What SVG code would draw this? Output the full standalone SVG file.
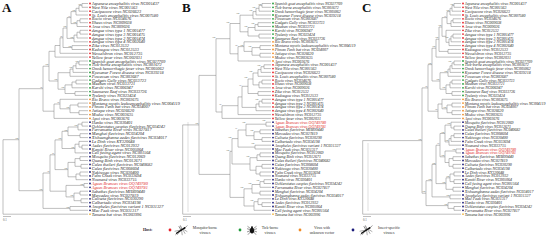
<svg xmlns="http://www.w3.org/2000/svg" width="550" height="240" viewBox="0 0 550 240">
<style>
.tree{fill:none;stroke:#7f7f7f;stroke-width:0.5}
.bar{fill:none;stroke:#bdbdbd;stroke-width:0.5}
text{font-family:"Liberation Serif","Times New Roman",serif}
.t{font-size:4.3px;font-style:italic;fill:#2a2a2a;dominant-baseline:central}
.tc{font-size:3.95px}
.red{fill:#e02424}
.bs{font-size:2.3px;fill:#666;text-anchor:end}
.lt{font-size:13px;font-weight:bold;fill:#111}
.sc{font-size:3px;fill:#555}
.lg{font-size:3.8px;fill:#333;text-anchor:middle}
.host{font-size:4px;font-weight:bold;fill:#222}
.r{fill:#e8202a}.g{fill:#1f9a3a}.o{fill:#f08a24}.b{fill:#1b1b7a}.y{fill:#f0b84a}
circle.d{r:0.9px}
</style>

<!-- ================= PANEL A ================= -->
<g id="panelA">
<text class="lt" x="2" y="12">A</text>
<g id="connectorsA">
<path class="tree" d="M82 3.5V7.3M82 3.5H88M82 7.3H88M79 5.4V11.2M79 5.4H82M79 11.2H88M76 8.3V15M76 8.3H79M76 15H88M80 18.8V22.7M80 18.8H88M80 22.7H88M77 20.7V26.5M77 20.7H80M77 26.5H88M71 11.6V23.6M71 11.6H76M71 23.6H77M80 30.3V34.1M80 30.3H88M80 34.1H88M77 32.2V38M77 32.2H80M77 38H88M74 35.1V41.8M74 35.1H77M74 41.8H88M67 17.6V38.4M67 17.6H71M67 38.4H74M72 45.6V49.5M72 45.6H88M72 49.5H88M63 28V47.5M63 28H67M63 47.5H72M60 37.8V53.3M60 37.8H63M60 53.3H88M55 45.5V57.1M55 45.5H60M55 57.1H88
M79 61V64.8M79 61H88M79 64.8H88M76 62.9V68.6M76 62.9H79M76 68.6H88M73 65.8V72.4M73 65.8H76M73 72.4H88M70 69.1V76.3M70 69.1H73M70 76.3H88M76 80.1V83.9M76 80.1H88M76 83.9H88M72 82V87.8M72 82H76M72 87.8H88M75 91.6V95.4M75 91.6H88M75 95.4H88M65 84.9V93.5M65 84.9H72M65 93.5H75M58 72.7V89.2M58 72.7H70M58 89.2H65M49 51.3V81M49 51.3H55M49 81H58
M78 103.1V106.9M78 103.1H88M78 106.9H88M79 110.7V114.6M79 110.7H88M79 114.6H88M70 105V112.7M70 105H78M70 112.7H79M60 99.3V108.8M60 99.3H88M60 108.8H70M54 104V118.4M54 104H60M54 118.4H88M43 66.2V111.2M43 66.2H49M43 111.2H54
M82 122.2V126.1M82 122.2H88M82 126.1H88M78 124.1V129.9M78 124.1H82M78 129.9H88M80 133.7V137.6M80 133.7H88M80 137.6H88M68 127V135.6M68 127H78M68 135.6H80M82 145.2V149M82 145.2H88M82 149H88M79 141.4V147.1M79 141.4H88M79 147.1H82M75 144.2V152.9M75 144.2H79M75 152.9H88M62 131.3V148.5M62 131.3H68M62 148.5H75M80 156.7V160.5M80 156.7H88M80 160.5H88M81 164.4V168.2M81 164.4H88M81 168.2H88M75 158.6V166.3M75 158.6H80M75 166.3H81M80 172V175.9M80 172H88M80 175.9H88M76 174V179.7M76 174H80M76 179.7H88M68 162.4V176.8M68 162.4H75M68 176.8H76M55 139.9V169.6M55 139.9H62M55 169.6H68M84 183.5V187.3M84 183.5H88M84 187.3H88M80 191.2V195M80 191.2H88M80 195H88M81 198.8V202.7M81 198.8H88M81 202.7H88M74 193.1V200.7M74 193.1H80M74 200.7H81M66 185.4V196.9M66 185.4H84M66 196.9H74M50 154.8V191.2M50 154.8H55M50 191.2H66M70 206.5V210.3M70 206.5H88M70 210.3H88M43 173V208.4M43 173H50M43 208.4H70
M19 88.7V190.7M19 88.7H43M19 190.7H43M3 139.7V214.2M3 139.7H19M3 214.2H88"/>
<path class="bar" d="M188 122V212"/>
<path class="tree" d="M3 216.5H11"/>
<text class="sc" x="3" y="220.5">0.1</text>
</g>
<g id="bootA">
<text class="bs" x="81.5" y="4.6">100</text><text class="bs" x="75.5" y="10.8">100</text><text class="bs" x="76.5" y="22.8">100</text><text class="bs" x="70.5" y="16.8">99</text><text class="bs" x="73.5" y="37.6">100</text><text class="bs" x="66.5" y="27.2">100</text><text class="bs" x="62.5" y="37">96</text><text class="bs" x="71.5" y="46.7">100</text>
<text class="bs" x="78.5" y="62.1">100</text><text class="bs" x="72.5" y="68.3">100</text><text class="bs" x="64.5" y="88.4">100</text><text class="bs" x="57.5" y="80.2">100</text><text class="bs" x="48.5" y="65.4">100</text><text class="bs" x="42.5" y="87.9">96</text>
<text class="bs" x="69.5" y="108">100</text><text class="bs" x="59.5" y="103.2">98</text>
<text class="bs" x="77.5" y="126.2">100</text><text class="bs" x="67.5" y="130.5">100</text><text class="bs" x="74.5" y="147.7">100</text><text class="bs" x="61.5" y="139.1">100</text><text class="bs" x="67.5" y="168.8">100</text><text class="bs" x="54.5" y="154">87</text><text class="bs" x="83.5" y="184.6">100</text><text class="bs" x="73.5" y="196.1">100</text><text class="bs" x="49.5" y="172.2">74</text><text class="bs" x="69.5" y="207.6">100</text><text class="bs" x="42.5" y="189.9">100</text><text class="bs" x="18.5" y="138.9">100</text>
</g>
<g id="A0"><circle class="d r" cx="90" cy="3.5"/><text class="t" x="91.8" y="3.5">Japanese encephalitis virus NC001437</text></g>
<g id="A1"><circle class="d r" cx="90" cy="7.3"/><text class="t" x="91.8" y="7.3">West Nile virus NC001563</text></g>
<g id="A2"><circle class="d r" cx="90" cy="11.2"/><text class="t" x="91.8" y="11.2">Cacipacore virus NC026623</text></g>
<g id="A3"><circle class="d r" cx="90" cy="15"/><text class="t" x="91.8" y="15">St. Louis encephalitis virus NC007580</text></g>
<g id="A4"><circle class="d r" cx="90" cy="18.8"/><text class="t" x="91.8" y="18.8">Rocio virus NC034676</text></g>
<g id="A5"><circle class="d r" cx="90" cy="22.7"/><text class="t" x="91.8" y="22.7">Ilheus virus NC009028</text></g>
<g id="A6"><circle class="d r" cx="90" cy="26.5"/><text class="t" x="91.8" y="26.5">Aroa virus NC009026</text></g>
<g id="A7"><circle class="d r" cx="90" cy="30.3"/><text class="t" x="91.8" y="30.3">dengue virus type 1 NC001477</text></g>
<g id="A8"><circle class="d r" cx="90" cy="34.1"/><text class="t" x="91.8" y="34.1">dengue virus type 3 NC001475</text></g>
<g id="A9"><circle class="d r" cx="90" cy="38"/><text class="t" x="91.8" y="38">dengue virus type 2 NC001474</text></g>
<g id="A10"><circle class="d r" cx="90" cy="41.8"/><text class="t" x="91.8" y="41.8">dengue virus type 4 NC002640</text></g>
<g id="A11"><circle class="d r" cx="90" cy="45.6"/><text class="t" x="91.8" y="45.6">Zika virus NC012532</text></g>
<g id="A12"><circle class="d r" cx="90" cy="49.5"/><text class="t" x="91.8" y="49.5">Kedougou virus NC012533</text></g>
<g id="A13"><circle class="d r" cx="90" cy="53.3"/><text class="t" x="91.8" y="53.3">Wesselsbron virus NC012735</text></g>
<g id="A14"><circle class="d r" cx="90" cy="57.1"/><text class="t" x="91.8" y="57.1">Yellow fever virus NC002031</text></g>
<g id="A15"><circle class="d g" cx="90" cy="61"/><text class="t" x="91.8" y="61">Spanish goat encephalitis virus NC027709</text></g>
<g id="A16"><circle class="d g" cx="90" cy="64.8"/><text class="t" x="91.8" y="64.8">Tick-borne encephalitis virus NC001672</text></g>
<g id="A17"><circle class="d g" cx="90" cy="68.6"/><text class="t" x="91.8" y="68.6">Omsk hemorrhagic fever virus NC005062</text></g>
<g id="A18"><circle class="d g" cx="90" cy="72.4"/><text class="t" x="91.8" y="72.4">Kyasanur Forest disease virus NC039218</text></g>
<g id="A19"><circle class="d g" cx="90" cy="76.3"/><text class="t" x="91.8" y="76.3">Powassan virus NC003687</text></g>
<g id="A20"><circle class="d g" cx="90" cy="80.1"/><text class="t" x="91.8" y="80.1">Gadgets Gully virus NC033723</text></g>
<g id="A21"><circle class="d g" cx="90" cy="83.9"/><text class="t" x="91.8" y="83.9">Meaban virus NC033721</text></g>
<g id="A22"><circle class="d g" cx="90" cy="87.8"/><text class="t" x="91.8" y="87.8">Karshi virus NC006947</text></g>
<g id="A23"><circle class="d g" cx="90" cy="91.6"/><text class="t" x="91.8" y="91.6">Saumarez Reef virus NC033726</text></g>
<g id="A24"><circle class="d g" cx="90" cy="95.4"/><text class="t" x="91.8" y="95.4">Tyuleniy virus NC023424</text></g>
<g id="A25"><circle class="d o" cx="90" cy="99.3"/><text class="t" x="91.8" y="99.3">Rio Bravo virus NC003675</text></g>
<g id="A26"><circle class="d o" cx="90" cy="103.1"/><text class="t" x="91.8" y="103.1">Montana myotis leukoencephalitis virus NC004119</text></g>
<g id="A27"><circle class="d o" cx="90" cy="106.9"/><text class="t" x="91.8" y="106.9">Phnom Penh bat virus NC034007</text></g>
<g id="A28"><circle class="d o" cx="90" cy="110.7"/><text class="t" x="91.8" y="110.7">Jutiapa virus NC026620</text></g>
<g id="A29"><circle class="d o" cx="90" cy="114.6"/><text class="t" x="91.8" y="114.6">Modoc virus NC003635</text></g>
<g id="A30"><circle class="d o" cx="90" cy="118.4"/><text class="t" x="91.8" y="118.4">Apoi virus NC003676</text></g>
<g id="A31"><circle class="d b" cx="90" cy="122.2"/><text class="t" x="91.8" y="122.2">Hanko virus NC030401</text></g>
<g id="A32"><circle class="d b" cx="90" cy="126.1"/><text class="t" x="91.8" y="126.1">Ochlerotatus caspius flavivirus NC034242</text></g>
<g id="A33"><circle class="d b" cx="90" cy="129.9"/><text class="t" x="91.8" y="129.9">Parramatta River virus NC027817</text></g>
<g id="A34"><circle class="d b" cx="90" cy="133.7"/><text class="t" x="91.8" y="133.7">Menghai flavivirus NC034204</text></g>
<g id="A35"><circle class="d b" cx="90" cy="137.6"/><text class="t" x="91.8" y="137.6">Xishuangbanna aedes flavivirus NC034017</text></g>
<g id="A36"><circle class="d b" cx="90" cy="141.4"/><text class="t" x="91.8" y="141.4">Le Dinh virus KY320648</text></g>
<g id="A37"><circle class="d b" cx="90" cy="145.2"/><text class="t" x="91.8" y="145.2">Aedes flavivirus NC012932</text></g>
<g id="A38"><circle class="d b" cx="90" cy="149"/><text class="t" x="91.8" y="149">Kamiti River virus NC005064</text></g>
<g id="A39"><circle class="d b" cx="90" cy="152.9"/><text class="t" x="91.8" y="152.9">Cell fusing agent virus NC001564</text></g>
<g id="A40"><circle class="d b" cx="90" cy="156.7"/><text class="t" x="91.8" y="156.7">Mosquito flavivirus NC012069</text></g>
<g id="A41"><circle class="d b" cx="90" cy="160.5"/><text class="t" x="91.8" y="160.5">Quang Binh virus NC012671</text></g>
<g id="A42"><circle class="d b" cx="90" cy="164.4"/><text class="t" x="91.8" y="164.4">Culex theileri flavivirus NC040682</text></g>
<g id="A43"><circle class="d b" cx="90" cy="168.2"/><text class="t" x="91.8" y="168.2">Culex flavivirus NC008604</text></g>
<g id="A44"><circle class="d b" cx="90" cy="172"/><text class="t" x="91.8" y="172">Nakiwogo virus NC030400</text></g>
<g id="A45"><circle class="d b" cx="90" cy="175.9"/><text class="t" x="91.8" y="175.9">Palm Creek virus NC033694</text></g>
<g id="A46"><circle class="d b" cx="90" cy="179.7"/><text class="t" x="91.8" y="179.7">Nounané virus NC033715</text></g>
<g id="A47"><circle class="d b" cx="90" cy="183.5"/><text class="t red" x="91.8" y="183.5">Aguas Brancas virus OQ749780</text></g>
<g id="A48"><circle class="d b" cx="90" cy="187.3"/><text class="t red" x="91.8" y="187.3">Aguas Brancas virus OQ749781</text></g>
<g id="A49"><circle class="d b" cx="90" cy="191.2"/><text class="t" x="91.8" y="191.2">Sabethes flavivirus MH899440</text></g>
<g id="A50"><circle class="d b" cx="90" cy="195"/><text class="t" x="91.8" y="195">Mercadeo virus NC027819</text></g>
<g id="A51"><circle class="d b" cx="90" cy="198.8"/><text class="t" x="91.8" y="198.8">Culiseta flavivirus NC030290</text></g>
<g id="A52"><circle class="d b" cx="90" cy="202.7"/><text class="t" x="91.8" y="202.7">Calbertado virus NC034198</text></g>
<g id="A53"><circle class="d b" cx="90" cy="206.5"/><text class="t" x="91.8" y="206.5">Anopheles flavivirus variant 1 NC031327</text></g>
<g id="A54"><circle class="d b" cx="90" cy="210.3"/><text class="t" x="91.8" y="210.3">Mac Peak virus NC031317</text></g>
<g id="A55"><circle class="d y" cx="90" cy="214.2"/><text class="t" x="91.8" y="214.2">Tamana bat virus NC003996</text></g>
</g>

<!-- ================= PANEL B ================= -->
<g id="panelB" transform="translate(180,0)">
<text class="lt" x="2" y="12">B</text>
<g id="connectorsB">
<path class="tree" d="M82 3.5V7.3M82 3.5H91M82 7.3H91M79 5.4V11.2M79 5.4H82M79 11.2H91M76 8.3V15M76 8.3H79M76 15H91M73 11.6V18.8M73 11.6H76M73 18.8H91M78 22.7V26.5M78 22.7H91M78 26.5H91M75 24.6V30.3M75 24.6H78M75 30.3H91M79 34.1V38M79 34.1H91M79 38H91M68 27.5V36M68 27.5H75M68 36H79M60 15.2V31.8M60 15.2H73M60 31.8H68
M80 45.6V49.5M80 45.6H91M80 49.5H91M80 53.3V57.1M80 53.3H91M80 57.1H91M72 47.6V55.2M72 47.6H80M72 55.2H80M64 41.8V51.4M64 41.8H91M64 51.4H72M58 46.6V61M58 46.6H64M58 61H91M50 23.5V53.8M50 23.5H60M50 53.8H58
M84 64.8V68.6M84 64.8H91M84 68.6H91M81 66.7V72.4M81 66.7H84M81 72.4H91M78 69.6V76.3M78 69.6H81M78 76.3H91M82 80.1V83.9M82 80.1H91M82 83.9H91M79 82V87.8M79 82H82M79 87.8H91M73 73V84.9M73 73H78M73 84.9H79M78 91.6V95.4M78 91.6H91M78 95.4H91M68 79V93.5M68 79H73M68 93.5H78M82 99.3V103.1M82 99.3H91M82 103.1H91M79 101.2V106.9M79 101.2H82M79 106.9H91M76 104V110.7M76 104H79M76 110.7H91M62 86.3V107.4M62 86.3H68M62 107.4H76M58 96.9V114.6M58 96.9H62M58 114.6H91M42 105.7V118.4M42 105.7H58M42 118.4H91M36 38.7V112M36 38.7H50M36 112H42
M86 122.2V126.1M86 122.2H91M86 126.1H91M80 129.9V133.7M80 129.9H91M80 133.7H91M82 137.6V141.4M82 137.6H91M82 141.4H91M74 131.8V139.5M74 131.8H80M74 139.5H82M66 124.2V135.7M66 124.2H86M66 135.7H74M75 145.2V149M75 145.2H91M75 149H91M58 130V147.1M58 130H66M58 147.1H75M80 152.9V156.7M80 152.9H91M80 156.7H91M77 154.8V160.5M77 154.8H80M77 160.5H91M82 164.4V168.2M82 164.4H91M82 168.2H91M80 172V175.9M80 172H91M80 175.9H91M76 166.3V174M76 166.3H82M76 174H80M70 157.7V170.2M70 157.7H77M70 170.2H76M52 138.6V164M52 138.6H58M52 164H70M84 179.7V183.5M84 179.7H91M84 183.5H91M80 181.6V187.3M80 181.6H84M80 187.3H91M80 191.2V195M80 191.2H91M80 195H91M72 184.5V193.1M72 184.5H80M72 193.1H80M82 202.7V206.5M82 202.7H91M82 206.5H91M78 198.8V204.6M78 198.8H91M78 204.6H82M74 201.7V210.3M74 201.7H78M74 210.3H91M64 188.8V206M64 188.8H72M64 206H74M50 151.3V197.4M50 151.3H52M50 197.4H64
M19 75.4V174.4M19 75.4H36M19 174.4H50M2.7 124.9V214.2M2.7 124.9H19M2.7 214.2H91"/>
<path class="bar" d="M188 143V211"/>
<path class="tree" d="M3 216.5H11"/>
<text class="sc" x="3" y="220.5">0.1</text>
</g>
<g id="bootB">
<text class="bs" x="81.5" y="4.6">100</text><text class="bs" x="75.5" y="7.5">100</text><text class="bs" x="72.5" y="10.8">100</text><text class="bs" x="74.5" y="23.8">100</text><text class="bs" x="67.5" y="26.7">100</text><text class="bs" x="59.5" y="14.4">100</text><text class="bs" x="49.5" y="22.7">100</text>
<text class="bs" x="71.5" y="46.8">100</text><text class="bs" x="63.5" y="45.8">100</text><text class="bs" x="57.5" y="45.8">98</text>
<text class="bs" x="80.5" y="65.9">100</text><text class="bs" x="72.5" y="72.2">100</text><text class="bs" x="67.5" y="78.2">100</text><text class="bs" x="78.5" y="100.4">100</text><text class="bs" x="61.5" y="85.5">99</text><text class="bs" x="41.5" y="104.9">96</text><text class="bs" x="35.5" y="37.9">100</text>
<text class="bs" x="85.5" y="121.4">100</text><text class="bs" x="73.5" y="131">100</text><text class="bs" x="65.5" y="123.4">100</text><text class="bs" x="74.5" y="144.4">100</text><text class="bs" x="57.5" y="129.2">97</text><text class="bs" x="69.5" y="156.9">100</text><text class="bs" x="51.5" y="137.8">100</text><text class="bs" x="79.5" y="180.8">100</text><text class="bs" x="71.5" y="183.7">100</text><text class="bs" x="73.5" y="200.9">100</text><text class="bs" x="63.5" y="188">100</text><text class="bs" x="49.5" y="150.5">100</text><text class="bs" x="18.5" y="124.1">100</text>
</g>
<g id="B0"><circle class="d g" cx="93" cy="3.5"/><text class="t tc" x="94.8" y="3.5">Spanish goat encephalitis virus NC027709</text></g>
<g id="B1"><circle class="d g" cx="93" cy="7.3"/><text class="t tc" x="94.8" y="7.3">Tick-borne encephalitis virus NC001672</text></g>
<g id="B2"><circle class="d g" cx="93" cy="11.2"/><text class="t tc" x="94.8" y="11.2">Omsk hemorrhagic fever virus NC005062</text></g>
<g id="B3"><circle class="d g" cx="93" cy="15"/><text class="t tc" x="94.8" y="15">Kyasanur Forest disease virus NC039218</text></g>
<g id="B4"><circle class="d g" cx="93" cy="18.8"/><text class="t tc" x="94.8" y="18.8">Powassan virus NC003687</text></g>
<g id="B5"><circle class="d g" cx="93" cy="22.7"/><text class="t tc" x="94.8" y="22.7">Gadgets Gully virus NC033723</text></g>
<g id="B6"><circle class="d g" cx="93" cy="26.5"/><text class="t tc" x="94.8" y="26.5">Meaban virus NC033721</text></g>
<g id="B7"><circle class="d g" cx="93" cy="30.3"/><text class="t tc" x="94.8" y="30.3">Karshi virus NC006947</text></g>
<g id="B8"><circle class="d g" cx="93" cy="34.1"/><text class="t tc" x="94.8" y="34.1">Tyuleniy virus NC023424</text></g>
<g id="B9"><circle class="d g" cx="93" cy="38"/><text class="t tc" x="94.8" y="38">Saumarez Reef virus NC033726</text></g>
<g id="B10"><circle class="d o" cx="93" cy="41.8"/><text class="t tc" x="94.8" y="41.8">Rio Bravo virus NC003675</text></g>
<g id="B11"><circle class="d o" cx="93" cy="45.6"/><text class="t tc" x="94.8" y="45.6">Montana myotis leukoencephalitis virus NC004119</text></g>
<g id="B12"><circle class="d o" cx="93" cy="49.5"/><text class="t tc" x="94.8" y="49.5">Phnom Penh bat virus NC034007</text></g>
<g id="B13"><circle class="d o" cx="93" cy="53.3"/><text class="t tc" x="94.8" y="53.3">Jutiapa virus NC026620</text></g>
<g id="B14"><circle class="d o" cx="93" cy="57.1"/><text class="t tc" x="94.8" y="57.1">Modoc virus NC003635</text></g>
<g id="B15"><circle class="d o" cx="93" cy="61"/><text class="t tc" x="94.8" y="61">Apoi virus NC003676</text></g>
<g id="B16"><circle class="d r" cx="93" cy="64.8"/><text class="t tc" x="94.8" y="64.8">Japanese encephalitis virus NC001437</text></g>
<g id="B17"><circle class="d r" cx="93" cy="68.6"/><text class="t tc" x="94.8" y="68.6">West Nile virus NC001563</text></g>
<g id="B18"><circle class="d r" cx="93" cy="72.4"/><text class="t tc" x="94.8" y="72.4">Cacipacore virus NC026623</text></g>
<g id="B19"><circle class="d r" cx="93" cy="76.3"/><text class="t tc" x="94.8" y="76.3">St. Louis encephalitis virus NC007580</text></g>
<g id="B20"><circle class="d r" cx="93" cy="80.1"/><text class="t tc" x="94.8" y="80.1">Rocio virus NC034676</text></g>
<g id="B21"><circle class="d r" cx="93" cy="83.9"/><text class="t tc" x="94.8" y="83.9">Ilheus virus NC009028</text></g>
<g id="B22"><circle class="d r" cx="93" cy="87.8"/><text class="t tc" x="94.8" y="87.8">Aroa virus NC009026</text></g>
<g id="B23"><circle class="d r" cx="93" cy="91.6"/><text class="t tc" x="94.8" y="91.6">Zika virus NC012532</text></g>
<g id="B24"><circle class="d r" cx="93" cy="95.4"/><text class="t tc" x="94.8" y="95.4">Kedougou virus NC012533</text></g>
<g id="B25"><circle class="d r" cx="93" cy="99.3"/><text class="t tc" x="94.8" y="99.3">dengue virus type 1 NC001477</text></g>
<g id="B26"><circle class="d r" cx="93" cy="103.1"/><text class="t tc" x="94.8" y="103.1">dengue virus type 3 NC001475</text></g>
<g id="B27"><circle class="d r" cx="93" cy="106.9"/><text class="t tc" x="94.8" y="106.9">dengue virus type 2 NC001474</text></g>
<g id="B28"><circle class="d r" cx="93" cy="110.7"/><text class="t tc" x="94.8" y="110.7">dengue virus type 4 NC002640</text></g>
<g id="B29"><circle class="d r" cx="93" cy="114.6"/><text class="t tc" x="94.8" y="114.6">Wesselsbron virus NC012735</text></g>
<g id="B30"><circle class="d r" cx="93" cy="118.4"/><text class="t tc" x="94.8" y="118.4">Yellow fever virus NC002031</text></g>
<g id="B31"><circle class="d b" cx="93" cy="122.2"/><text class="t tc red" x="94.8" y="122.2">Aguas Brancas virus OQ749780</text></g>
<g id="B32"><circle class="d b" cx="93" cy="126.1"/><text class="t tc red" x="94.8" y="126.1">Aguas Brancas virus OQ749781</text></g>
<g id="B33"><circle class="d b" cx="93" cy="129.9"/><text class="t tc" x="94.8" y="129.9">Sabethes flavivirus MH899440</text></g>
<g id="B34"><circle class="d b" cx="93" cy="133.7"/><text class="t tc" x="94.8" y="133.7">Mercadeo virus NC027819</text></g>
<g id="B35"><circle class="d b" cx="93" cy="137.6"/><text class="t tc" x="94.8" y="137.6">Culiseta flavivirus NC030290</text></g>
<g id="B36"><circle class="d b" cx="93" cy="141.4"/><text class="t tc" x="94.8" y="141.4">Calbertado virus NC034198</text></g>
<g id="B37"><circle class="d b" cx="93" cy="145.2"/><text class="t tc" x="94.8" y="145.2">Anopheles flavivirus variant 1 NC031327</text></g>
<g id="B38"><circle class="d b" cx="93" cy="149"/><text class="t tc" x="94.8" y="149">Mac Peak virus NC031317</text></g>
<g id="B39"><circle class="d b" cx="93" cy="152.9"/><text class="t tc" x="94.8" y="152.9">Mosquito flavivirus NC012069</text></g>
<g id="B40"><circle class="d b" cx="93" cy="156.7"/><text class="t tc" x="94.8" y="156.7">Quang Binh virus NC012671</text></g>
<g id="B41"><circle class="d b" cx="93" cy="160.5"/><text class="t tc" x="94.8" y="160.5">Culex theileri flavivirus NC040682</text></g>
<g id="B42"><circle class="d b" cx="93" cy="164.4"/><text class="t tc" x="94.8" y="164.4">Culex flavivirus NC008604</text></g>
<g id="B43"><circle class="d b" cx="93" cy="168.2"/><text class="t tc" x="94.8" y="168.2">Nakiwogo virus NC030400</text></g>
<g id="B44"><circle class="d b" cx="93" cy="172"/><text class="t tc" x="94.8" y="172">Palm Creek virus NC033694</text></g>
<g id="B45"><circle class="d b" cx="93" cy="175.9"/><text class="t tc" x="94.8" y="175.9">Nounané virus NC033715</text></g>
<g id="B46"><circle class="d b" cx="93" cy="179.7"/><text class="t tc" x="94.8" y="179.7">Hanko virus NC030401</text></g>
<g id="B47"><circle class="d b" cx="93" cy="183.5"/><text class="t tc" x="94.8" y="183.5">Ochlerotatus caspius flavivirus NC034242</text></g>
<g id="B48"><circle class="d b" cx="93" cy="187.3"/><text class="t tc" x="94.8" y="187.3">Parramatta River virus NC027817</text></g>
<g id="B49"><circle class="d b" cx="93" cy="191.2"/><text class="t tc" x="94.8" y="191.2">Menghai flavivirus NC034204</text></g>
<g id="B50"><circle class="d b" cx="93" cy="195"/><text class="t tc" x="94.8" y="195">Xishuangbanna aedes flavivirus NC034017</text></g>
<g id="B51"><circle class="d b" cx="93" cy="198.8"/><text class="t tc" x="94.8" y="198.8">Le Dinh virus KY320648</text></g>
<g id="B52"><circle class="d b" cx="93" cy="202.7"/><text class="t tc" x="94.8" y="202.7">Aedes flavivirus NC012932</text></g>
<g id="B53"><circle class="d b" cx="93" cy="206.5"/><text class="t tc" x="94.8" y="206.5">Kamiti River virus NC005064</text></g>
<g id="B54"><circle class="d b" cx="93" cy="210.3"/><text class="t tc" x="94.8" y="210.3">Cell fusing agent virus NC001564</text></g>
<g id="B55"><circle class="d y" cx="93" cy="214.2"/><text class="t tc" x="94.8" y="214.2">Tamana bat virus NC003996</text></g>
</g>

<!-- ================= PANEL C ================= -->
<g id="panelC" transform="translate(360,0)">
<text class="lt" x="2" y="12">C</text>
<g id="connectorsC">
<path class="tree" d="M94 3.5V7.3M94 3.5H101M94 7.3H101M92 5.4V11.2M92 5.4H94M92 11.2H101M90 8.3V15M90 8.3H92M90 15H101M93 18.8V22.7M93 18.8H101M93 22.7H101M91 20.7V26.5M91 20.7H93M91 26.5H101M87 11.6V23.6M87 11.6H90M87 23.6H91M93 34.1V38M93 34.1H101M93 38H101M91 36V41.8M91 36H93M91 41.8H101M89 38.9V45.6M89 38.9H91M89 45.6H101M86 30.3V42.3M86 30.3H101M86 42.3H89M82 17.6V36.3M82 17.6H87M82 36.3H86M88 49.5V53.3M88 49.5H101M88 53.3H101M79 27V51.4M79 27H82M79 51.4H88M76 39.2V57.1M76 39.2H79M76 57.1H101
M94 61V64.8M94 61H101M94 64.8H101M92 62.9V68.6M92 62.9H94M92 68.6H101M90 65.8V72.4M90 65.8H92M90 72.4H101M88 69.1V76.3M88 69.1H90M88 76.3H101M92 80.1V83.9M92 80.1H101M92 83.9H101M90 82V87.8M90 82H92M90 87.8H101M92 91.6V95.4M92 91.6H101M92 95.4H101M86 84.9V93.5M86 84.9H90M86 93.5H92M80 72.7V89.2M80 72.7H88M80 89.2H86M72 48.2V81M72 48.2H76M72 81H80
M92 103.1V106.9M92 103.1H101M92 106.9H101M92 110.7V114.6M92 110.7H101M92 114.6H101M87 105V112.7M87 105H92M87 112.7H92M82 99.3V108.8M82 99.3H101M82 108.8H87M78 104V118.4M78 104H82M78 118.4H101M68 64.6V111.2M68 64.6H72M68 111.2H78
M94 126.1V129.9M94 126.1H101M94 129.9H101M91 122.2V128M91 122.2H101M91 128H94M94 133.7V137.6M94 133.7H101M94 137.6H101M91 135.7V141.4M91 135.7H94M91 141.4H101M89 138.6V145.2M89 138.6H91M89 145.2H101M85 125.1V141.9M85 125.1H91M85 141.9H89M96 149V152.9M96 149H101M96 152.9H101M93 156.7V160.5M93 156.7H101M93 160.5H101M93 164.4V168.2M93 164.4H101M93 168.2H101M89 158.6V166.3M89 158.6H93M89 166.3H93M85 151V162.5M85 151H96M85 162.5H89M80 133.5V156.8M80 133.5H85M80 156.8H85M94 172V175.9M94 172H101M94 175.9H101M94 179.7V183.5M94 179.7H101M94 183.5H101M90 174V181.6M90 174H94M90 181.6H94M93 187.3V191.2M93 187.3H101M93 191.2H101M86 177.8V189.3M86 177.8H90M86 189.3H93M76 145.2V183.6M76 145.2H80M76 183.6H86M90 195V198.8M90 195H101M90 198.8H101M72 164.4V196.9M72 164.4H76M72 196.9H90M94 206.5V210.3M94 206.5H101M94 210.3H101M88 202.7V208.4M88 202.7H101M88 208.4H94M66 180.7V205.6M66 180.7H72M66 205.6H88
M62 87.9V193.2M62 87.9H68M62 193.2H66M2.7 140.6V214.2M2.7 140.6H62M2.7 214.2H101"/>
<path class="tree" d="M3 216.5H11"/>
<text class="sc" x="3" y="220.5">0.1</text>
</g>
<g id="bootC">
<text class="bs" x="93.5" y="4.6">100</text><text class="bs" x="89.5" y="10.8">100</text><text class="bs" x="86.5" y="16.8">97</text><text class="bs" x="88.5" y="38.1">100</text><text class="bs" x="81.5" y="26.2">100</text><text class="bs" x="78.5" y="38.4">100</text><text class="bs" x="75.5" y="47.4">100</text>
<text class="bs" x="91.5" y="62.1">100</text><text class="bs" x="87.5" y="71.9">100</text><text class="bs" x="85.5" y="88.4">100</text><text class="bs" x="79.5" y="80.2">100</text><text class="bs" x="71.5" y="63.8">100</text><text class="bs" x="67.5" y="87.1">96</text>
<text class="bs" x="86.5" y="108">100</text><text class="bs" x="77.5" y="110.4">98</text>
<text class="bs" x="90.5" y="124.3">100</text><text class="bs" x="88.5" y="141.1">100</text><text class="bs" x="84.5" y="132.7">100</text><text class="bs" x="95.5" y="150.2">100</text><text class="bs" x="84.5" y="156">100</text><text class="bs" x="79.5" y="144.4">99</text><text class="bs" x="89.5" y="177">100</text><text class="bs" x="85.5" y="182.8">100</text><text class="bs" x="75.5" y="163.6">100</text><text class="bs" x="89.5" y="196.1">100</text><text class="bs" x="71.5" y="179.9">100</text><text class="bs" x="87.5" y="204.8">100</text><text class="bs" x="65.5" y="192.4">100</text><text class="bs" x="61.5" y="139.8">100</text>
</g>
<g id="C0"><circle class="d r" cx="103" cy="3.5"/><text class="t tc" x="104.8" y="3.5">Japanese encephalitis virus NC001437</text></g>
<g id="C1"><circle class="d r" cx="103" cy="7.3"/><text class="t tc" x="104.8" y="7.3">West Nile virus NC001563</text></g>
<g id="C2"><circle class="d r" cx="103" cy="11.2"/><text class="t tc" x="104.8" y="11.2">Cacipacore virus NC026623</text></g>
<g id="C3"><circle class="d r" cx="103" cy="15"/><text class="t tc" x="104.8" y="15">St. Louis encephalitis virus NC007580</text></g>
<g id="C4"><circle class="d r" cx="103" cy="18.8"/><text class="t tc" x="104.8" y="18.8">Rocio virus NC034676</text></g>
<g id="C5"><circle class="d r" cx="103" cy="22.7"/><text class="t tc" x="104.8" y="22.7">Ilheus virus NC009028</text></g>
<g id="C6"><circle class="d r" cx="103" cy="26.5"/><text class="t tc" x="104.8" y="26.5">Aroa virus NC009026</text></g>
<g id="C7"><circle class="d r" cx="103" cy="30.3"/><text class="t tc" x="104.8" y="30.3">Zika virus NC012532</text></g>
<g id="C8"><circle class="d r" cx="103" cy="34.1"/><text class="t tc" x="104.8" y="34.1">dengue virus type 1 NC001477</text></g>
<g id="C9"><circle class="d r" cx="103" cy="38"/><text class="t tc" x="104.8" y="38">dengue virus type 3 NC001475</text></g>
<g id="C10"><circle class="d r" cx="103" cy="41.8"/><text class="t tc" x="104.8" y="41.8">dengue virus type 2 NC001474</text></g>
<g id="C11"><circle class="d r" cx="103" cy="45.6"/><text class="t tc" x="104.8" y="45.6">dengue virus type 4 NC002640</text></g>
<g id="C12"><circle class="d r" cx="103" cy="49.5"/><text class="t tc" x="104.8" y="49.5">Kedougou virus NC012533</text></g>
<g id="C13"><circle class="d r" cx="103" cy="53.3"/><text class="t tc" x="104.8" y="53.3">Wesselsbron virus NC012735</text></g>
<g id="C14"><circle class="d r" cx="103" cy="57.1"/><text class="t tc" x="104.8" y="57.1">Yellow fever virus NC002031</text></g>
<g id="C15"><circle class="d g" cx="103" cy="61"/><text class="t tc" x="104.8" y="61">Spanish goat encephalitis virus NC027709</text></g>
<g id="C16"><circle class="d g" cx="103" cy="64.8"/><text class="t tc" x="104.8" y="64.8">Tick-borne encephalitis virus NC001672</text></g>
<g id="C17"><circle class="d g" cx="103" cy="68.6"/><text class="t tc" x="104.8" y="68.6">Omsk hemorrhagic fever virus NC005062</text></g>
<g id="C18"><circle class="d g" cx="103" cy="72.4"/><text class="t tc" x="104.8" y="72.4">Kyasanur Forest disease virus NC039218</text></g>
<g id="C19"><circle class="d g" cx="103" cy="76.3"/><text class="t tc" x="104.8" y="76.3">Powassan virus NC003687</text></g>
<g id="C20"><circle class="d g" cx="103" cy="80.1"/><text class="t tc" x="104.8" y="80.1">Gadgets Gully virus NC033723</text></g>
<g id="C21"><circle class="d g" cx="103" cy="83.9"/><text class="t tc" x="104.8" y="83.9">Meaban virus NC033721</text></g>
<g id="C22"><circle class="d g" cx="103" cy="87.8"/><text class="t tc" x="104.8" y="87.8">Karshi virus NC006947</text></g>
<g id="C23"><circle class="d g" cx="103" cy="91.6"/><text class="t tc" x="104.8" y="91.6">Saumarez Reef virus NC033726</text></g>
<g id="C24"><circle class="d g" cx="103" cy="95.4"/><text class="t tc" x="104.8" y="95.4">Tyuleniy virus NC023424</text></g>
<g id="C25"><circle class="d o" cx="103" cy="99.3"/><text class="t tc" x="104.8" y="99.3">Rio Bravo virus NC003675</text></g>
<g id="C26"><circle class="d o" cx="103" cy="103.1"/><text class="t tc" x="104.8" y="103.1">Montana myotis leukoencephalitis virus NC004119</text></g>
<g id="C27"><circle class="d o" cx="103" cy="106.9"/><text class="t tc" x="104.8" y="106.9">Phnom Penh bat virus NC034007</text></g>
<g id="C28"><circle class="d o" cx="103" cy="110.7"/><text class="t tc" x="104.8" y="110.7">Jutiapa virus NC026620</text></g>
<g id="C29"><circle class="d o" cx="103" cy="114.6"/><text class="t tc" x="104.8" y="114.6">Modoc virus NC003635</text></g>
<g id="C30"><circle class="d o" cx="103" cy="118.4"/><text class="t tc" x="104.8" y="118.4">Apoi virus NC003676</text></g>
<g id="C31"><circle class="d b" cx="103" cy="122.2"/><text class="t tc" x="104.8" y="122.2">Mosquito flavivirus NC012069</text></g>
<g id="C32"><circle class="d b" cx="103" cy="126.1"/><text class="t tc" x="104.8" y="126.1">Quang Binh virus NC012671</text></g>
<g id="C33"><circle class="d b" cx="103" cy="129.9"/><text class="t tc" x="104.8" y="129.9">Culex theileri flavivirus NC040682</text></g>
<g id="C34"><circle class="d b" cx="103" cy="133.7"/><text class="t tc" x="104.8" y="133.7">Culex flavivirus NC008604</text></g>
<g id="C35"><circle class="d b" cx="103" cy="137.6"/><text class="t tc" x="104.8" y="137.6">Nakiwogo virus NC030400</text></g>
<g id="C36"><circle class="d b" cx="103" cy="141.4"/><text class="t tc" x="104.8" y="141.4">Palm Creek virus NC033694</text></g>
<g id="C37"><circle class="d b" cx="103" cy="145.2"/><text class="t tc" x="104.8" y="145.2">Nounané virus NC033715</text></g>
<g id="C38"><circle class="d b" cx="103" cy="149"/><text class="t tc red" x="104.8" y="149">Aguas Brancas virus OQ749780</text></g>
<g id="C39"><circle class="d b" cx="103" cy="152.9"/><text class="t tc red" x="104.8" y="152.9">Aguas Brancas virus OQ749781</text></g>
<g id="C40"><circle class="d b" cx="103" cy="156.7"/><text class="t tc" x="104.8" y="156.7">Sabethes flavivirus MH899440</text></g>
<g id="C41"><circle class="d b" cx="103" cy="160.5"/><text class="t tc" x="104.8" y="160.5">Mercadeo virus NC027819</text></g>
<g id="C42"><circle class="d b" cx="103" cy="164.4"/><text class="t tc" x="104.8" y="164.4">Culiseta flavivirus NC030290</text></g>
<g id="C43"><circle class="d b" cx="103" cy="168.2"/><text class="t tc" x="104.8" y="168.2">Calbertado virus NC034198</text></g>
<g id="C44"><circle class="d b" cx="103" cy="172"/><text class="t tc" x="104.8" y="172">Le Dinh virus KY320648</text></g>
<g id="C45"><circle class="d b" cx="103" cy="175.9"/><text class="t tc" x="104.8" y="175.9">Aedes flavivirus NC012932</text></g>
<g id="C46"><circle class="d b" cx="103" cy="179.7"/><text class="t tc" x="104.8" y="179.7">Kamiti River virus NC005064</text></g>
<g id="C47"><circle class="d b" cx="103" cy="183.5"/><text class="t tc" x="104.8" y="183.5">Cell fusing agent virus NC001564</text></g>
<g id="C48"><circle class="d b" cx="103" cy="187.3"/><text class="t tc" x="104.8" y="187.3">Menghai flavivirus NC034204</text></g>
<g id="C49"><circle class="d b" cx="103" cy="191.2"/><text class="t tc" x="104.8" y="191.2">Xishuangbanna aedes flavivirus NC034017</text></g>
<g id="C50"><circle class="d b" cx="103" cy="195"/><text class="t tc" x="104.8" y="195">Anopheles flavivirus variant 1 NC031327</text></g>
<g id="C51"><circle class="d b" cx="103" cy="198.8"/><text class="t tc" x="104.8" y="198.8">Mac Peak virus NC031317</text></g>
<g id="C52"><circle class="d b" cx="103" cy="202.7"/><text class="t tc" x="104.8" y="202.7">Hanko virus NC030401</text></g>
<g id="C53"><circle class="d b" cx="103" cy="206.5"/><text class="t tc" x="104.8" y="206.5">Ochlerotatus caspius flavivirus NC034242</text></g>
<g id="C54"><circle class="d b" cx="103" cy="210.3"/><text class="t tc" x="104.8" y="210.3">Parramatta River virus NC027817</text></g>
<g id="C55"><circle class="d y" cx="103" cy="214.2"/><text class="t tc" x="104.8" y="214.2">Tamana bat virus NC003996</text></g>
</g>

<!-- ================= LEGEND ================= -->
<g id="legend">
<text class="host" x="143" y="231.4">Host:</text>
<g id="leg-mosquito">
<circle class="r" cx="170" cy="230" r="1.4"/>
<g transform="translate(181,230)" stroke="#111" fill="none" stroke-linecap="round">
<path d="M-4.5 3.2L3 -1.6" stroke-width="1.3"/>
<circle cx="3.6" cy="-2" r="0.9" fill="#111" stroke="none"/>
<path d="M4.2 -2.4L6.2 -4.2" stroke-width="0.4"/>
<path d="M0 0L-2 -3.5M1 -0.6L-0.5 -4.2" stroke-width="0.5"/>
<path d="M1.5 -0.8L4 3.5M0.5 -0.2L1.2 4.8M-0.5 0.4L-3.5 4.5M2 -1L6 1.5M0 0L-6 1.2M-1 0.8L-5.5 4.8" stroke-width="0.35"/>
</g>
<text class="lg" x="205" y="228.6">Mosquito-borne</text>
<text class="lg" x="205" y="234.2">viruses</text>
</g>
<g id="leg-tick">
<circle class="g" cx="240" cy="230" r="1.4"/>
<g transform="translate(252,230)" stroke="#111" fill="none" stroke-width="0.45" stroke-linecap="round">
<path d="M-1.6 -1.5L-4.2 -3.5M-1.8 -0.3L-4.6 -1.2M-1.8 0.8L-4.6 1.8M-1.5 1.8L-3.8 4.4M1.6 -1.5L4.2 -3.5M1.8 -0.3L4.6 -1.2M1.8 0.8L4.6 1.8M1.5 1.8L3.8 4.4"/>
<ellipse cx="0" cy="0.6" rx="2.1" ry="2.9" fill="#111" stroke="none"/>
<circle cx="0" cy="-2.8" r="1" fill="#111" stroke="none"/>
</g>
<text class="lg" x="270" y="228.6">Tick-borne</text>
<text class="lg" x="270" y="234.2">viruses</text>
</g>
<g id="leg-unknown">
<circle class="o" cx="300" cy="230" r="1.4"/>
<text class="lg" x="322" y="228.6">Virus with</text>
<text class="lg" x="322" y="234.2">unknown vector</text>
</g>
<g id="leg-insect">
<circle class="b" cx="353" cy="230" r="1.4"/>
<g transform="translate(366,230)" stroke="#111" fill="none" stroke-linecap="round">
<path d="M-4.5 3.2L3 -1.6" stroke-width="1.3"/>
<circle cx="3.6" cy="-2" r="0.9" fill="#111" stroke="none"/>
<path d="M4.2 -2.4L6.2 -4.2" stroke-width="0.4"/>
<path d="M0 0L-2 -3.5M1 -0.6L-0.5 -4.2" stroke-width="0.5"/>
<path d="M1.5 -0.8L4 3.5M0.5 -0.2L1.2 4.8M-0.5 0.4L-3.5 4.5M2 -1L6 1.5M0 0L-6 1.2M-1 0.8L-5.5 4.8" stroke-width="0.35"/>
</g>
<text class="lg" x="389" y="228.6">Insect-specific</text>
<text class="lg" x="389" y="234.2">viruses</text>
</g>
</g>
</svg>
